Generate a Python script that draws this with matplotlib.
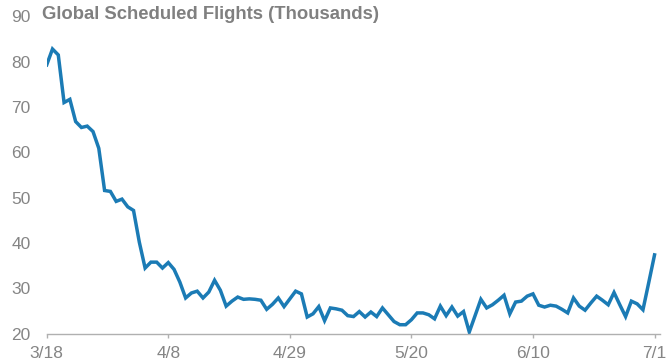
import numpy as np
import pandas as pd
import matplotlib
matplotlib.use('Agg')
import matplotlib.pyplot as plt

plt.rcParams['font.family'] = ['Liberation Sans', 'DejaVu Sans']

# daily global scheduled flights (thousands), starting 3/18
start_date = '2020-03-18'
flights = [
    79.3, 82.8, 81.5, 71.0, 71.7, 66.8, 65.5, 65.8, 64.6, 60.9,
    51.6, 51.4, 49.2, 49.7, 48.0, 47.2, 40.2, 34.5, 35.8, 35.8,
    34.5, 35.7, 34.2, 31.4, 27.9, 29.0, 29.4, 27.9, 29.2, 31.8,
    29.6, 26.1, 27.2, 28.1, 27.6, 27.7, 27.6, 27.4, 25.4, 26.5,
    27.9, 26.0, 27.7, 29.4, 28.8, 23.7, 24.4, 26.0, 22.9, 25.7,
    25.5, 25.2, 24.0, 23.8, 24.9, 23.7, 24.8, 23.8, 25.7, 24.2,
    22.7, 22.0, 22.0, 23.1, 24.6, 24.6, 24.2, 23.3, 26.1, 24.0,
    25.9, 23.9, 24.9, 20.4, 24.0, 27.6, 25.7, 26.4, 27.4, 28.5,
    24.4, 27.0, 27.2, 28.3, 28.8, 26.3, 25.9, 26.3, 26.1, 25.4,
    24.6, 27.9, 26.1, 25.2, 26.8, 28.3, 27.4, 26.4, 29.1, 26.4,
    23.8, 27.2, 26.6, 25.3, 31.3, 37.4,
]
dates = pd.date_range(start_date, periods=len(flights), freq='D')
tick_dates = pd.to_datetime(['2020-03-18', '2020-04-08', '2020-04-29',
                             '2020-05-20', '2020-06-10', '2020-07-01'])
tick_labels = ['3/18', '4/8', '4/29', '5/20', '6/10', '7/1']
y_ticks = [20, 30, 40, 50, 60, 70, 80, 90]

GRAY = '#858585'
BLUE = '#1b7bb5'

fig = plt.figure(figsize=(6.7, 3.64), dpi=100)
ax = fig.add_axes([0.0697, 0.083, 0.915, 0.872])

ax.plot(dates, flights, color=BLUE, lw=2.5, solid_joinstyle='miter')

ax.set_ylim(20, 90)
ax.set_xlim(pd.Timestamp('2020-03-18'), pd.Timestamp('2020-07-01') + pd.Timedelta(days=0.9))
ax.set_yticks(y_ticks)
ax.set_xticks(tick_dates)
ax.set_xticklabels(tick_labels)

for s in ('top', 'right', 'left'):
    ax.spines[s].set_visible(False)
ax.spines['bottom'].set_color('#b0b0b0')
ax.spines['bottom'].set_linewidth(1.0)

ax.tick_params(axis='y', length=0, pad=11.5, labelsize=12.5, labelcolor=GRAY)
ax.tick_params(axis='x', length=3.2, width=1.0, color='#b0b0b0', pad=5.5,
               labelsize=12.5, labelcolor=GRAY)

fig.text(0.062, 0.959, 'Global Scheduled Flights (Thousands)', fontsize=13.3,
         fontweight='bold', color='#808080', ha='left', va='center')

fig.savefig('out.png', dpi=100)
